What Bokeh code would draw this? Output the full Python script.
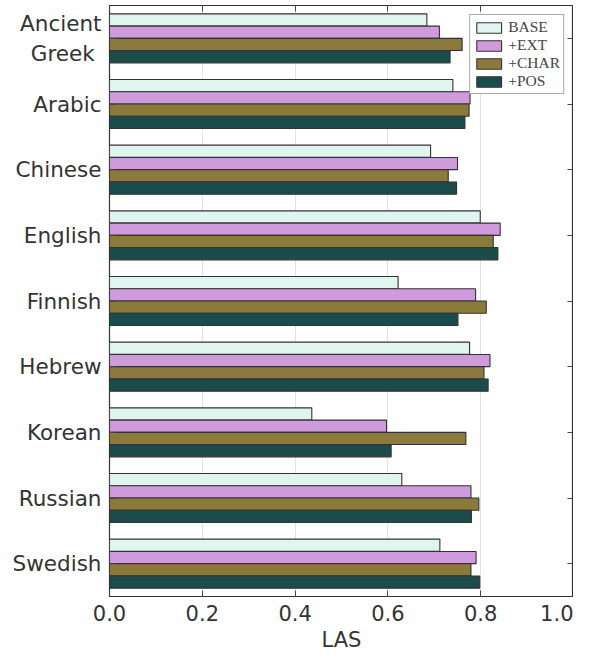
from bokeh.plotting import figure
from bokeh.models import ColumnDataSource, FactorRange, Range1d, LinearAxis, CategoricalAxis, Legend, LegendItem, FixedTicker, PrintfTickFormatter
from bokeh.transform import dodge
from bokeh.embed import file_html
from bokeh.resources import INLINE

languages = ["Ancient\nGreek\u00a0", "Arabic", "Chinese", "English", "Finnish", "Hebrew", "Korean", "Russian", "Swedish"]
base = [0.684, 0.740, 0.692, 0.799, 0.622, 0.776, 0.436, 0.630, 0.712]
ext = [0.711, 0.777, 0.750, 0.842, 0.789, 0.820, 0.597, 0.779, 0.790]
char = [0.760, 0.775, 0.730, 0.827, 0.812, 0.807, 0.768, 0.796, 0.779]
pos = [0.734, 0.766, 0.748, 0.837, 0.751, 0.816, 0.607, 0.780, 0.798]
series_names = ["BASE", "+EXT", "+CHAR", "+POS"]
colors = ["#e0f5ef", "#d09bdc", "#8c7a3c", "#1a4c4c"]
x_ticks = [0.0, 0.2, 0.4, 0.6, 0.8, 1.0]

source = ColumnDataSource(dict(lang=languages, BASE=base, EXT=ext, CHAR=char, POS=pos))

p = figure(frame_width=464, frame_height=591, output_backend="svg", toolbar_location=None,
           y_range=FactorRange(factors=languages[::-1], range_padding=0.0),
           x_range=Range1d(0, 1.0), min_border_top=5, min_border_right=0,
           min_border_left=0, min_border_bottom=0)
p.y_range.factor_padding = 0.0

offsets = [0.28, 0.093, -0.093, -0.28]
cols = ["BASE", "EXT", "CHAR", "POS"]
renderers = []
for c, off, col, name in zip(cols, offsets, colors, series_names):
    r = p.hbar(y=dodge("lang", off, range=p.y_range), right=c, left=0, height=0.186,
               source=source, fill_color=col, line_color="#333333", line_width=1.1)
    renderers.append((name, r))

legend = Legend(items=[LegendItem(label=n, renderers=[r]) for n, r in renderers],
                location="top_right", label_text_font="Liberation Serif",
                label_text_font_size="15.5px", glyph_width=31, glyph_height=13,
                label_standoff=4, spacing=-3, padding=3, margin=9,
                border_line_color="#555555", label_height=13)
p.add_layout(legend)

p.xaxis.ticker = FixedTicker(ticks=x_ticks)
p.xaxis.formatter = PrintfTickFormatter(format="%.1f")
p.xgrid.ticker = FixedTicker(ticks=x_ticks)
p.xaxis.axis_label = "LAS"
p.xaxis.axis_label_text_font = "DejaVu Sans"
p.xaxis.axis_label_text_font_style = "normal"
p.xaxis.axis_label_text_font_size = "21px"
p.xaxis.axis_label_text_color = "#333333"
p.xaxis.axis_label_standoff = 4
p.xaxis.major_label_text_font = "DejaVu Sans"
p.xaxis.major_label_text_font_size = "21px"
p.xaxis.major_label_text_color = "#333333"
p.xaxis.major_label_standoff = 8
p.yaxis.major_label_text_font = "DejaVu Sans"
p.yaxis.major_label_text_font_size = "21.5px"
p.yaxis.major_label_text_color = "#333333"
p.yaxis.major_label_standoff = 8
p.yaxis.axis_label = "\u00a0"
p.yaxis.axis_label_text_font_size = "5px"
p.yaxis.axis_label_standoff = 0
for ax in (p.xaxis[0], p.yaxis[0]):
    ax.major_tick_in = 6
    ax.major_tick_out = 0
    ax.minor_tick_in = 0
    ax.minor_tick_out = 0
    ax.axis_line_color = None
    ax.major_tick_line_color = "#444444"

top = LinearAxis(ticker=FixedTicker(ticks=x_ticks), major_label_text_font_size="0px",
                 major_tick_in=6, major_tick_out=0, minor_tick_in=0, minor_tick_out=0,
                 axis_line_color=None, major_tick_line_color="#444444", major_label_standoff=0)
p.add_layout(top, "above")
right = CategoricalAxis(major_label_text_font_size="0px", major_tick_in=6, major_tick_out=0,
                        axis_line_color=None, major_tick_line_color="#444444", major_label_standoff=0)
p.add_layout(right, "right")

p.ygrid.grid_line_color = None
p.xgrid.grid_line_color = "#e3e3e3"
p.outline_line_color = "#333333"
p.outline_line_width = 1.2
p.background_fill_color = "white"

open("out.html", "w").write(file_html(p, INLINE))
